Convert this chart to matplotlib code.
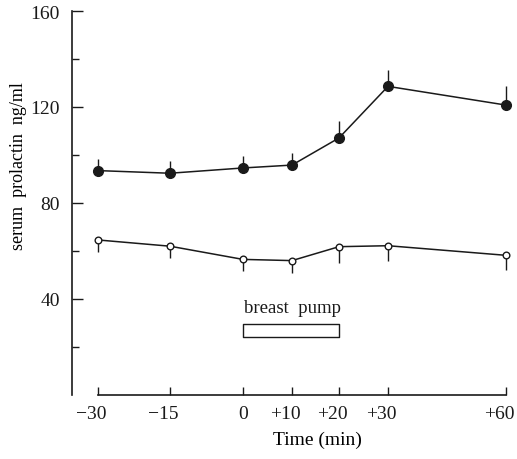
import numpy as np
import matplotlib
matplotlib.use("Agg")
import matplotlib.pyplot as plt
from matplotlib.scale import FuncScale
from matplotlib.transforms import ScaledTranslation

# time points (min) and serum prolactin (ng/ml)
times = [-30, -15, 0, 10, 20, 30, 60]
tick_labels = ["\u221230", "\u221215", "0", "+10", "+20", "+30", "+60"]

filled_mean = [93.5, 92.4, 94.6, 95.8, 107.1, 128.6, 120.8]
filled_err = [5.0, 5.2, 5.1, 5.0, 7.0, 7.0, 7.8]

open_mean = [64.6, 62.0, 56.5, 56.0, 61.8, 62.2, 58.2]
open_err = [5.0, 5.0, 4.8, 5.0, 6.8, 6.4, 6.0]

pump_start, pump_end = 0, 20

# hand-drawn time axis is not linear: relative spacing of the printed ticks
axis_spacing = [0, 72, 145, 194, 241, 290, 408]


def fwd(t):
    return np.interp(t, times, axis_spacing)


def inv(p):
    return np.interp(p, axis_spacing, times)


plt.rcParams['font.family'] = ['Liberation Serif', 'DejaVu Serif']
ink = '#1a1a1a'

fig = plt.figure(figsize=(5.17, 4.6), dpi=100)
ax = fig.add_axes([98 / 517, 64 / 460, 408 / 517, 384 / 460])
ax.set_xscale(FuncScale(ax.xaxis, (fwd, inv)))

for mean, err, up, ms, face in [(filled_mean, filled_err, True, 7, ink),
                                (open_mean, open_err, False, 4.8, 'white')]:
    zeros = np.zeros(len(err))
    yerr = [zeros, err] if up else [err, zeros]
    eb = ax.errorbar(times, mean, yerr=yerr, fmt='-o', color=ink, lw=1.1,
                     elinewidth=1.0, capsize=0, ms=ms, mfc=face, mec=ink,
                     mew=1.0, zorder=3)
    eb.lines[0].set_clip_on(False)
    for art in eb.lines[2]:
        art.set_clip_on(False)

# breast pump bar
ax.fill_between([pump_start, pump_end], 24.2, 29.6, facecolor='white',
                edgecolor=ink, lw=1.0)
ax.text((pump_start + pump_end) / 2, 33, "breast  pump", ha='center',
        va='bottom', fontsize=13.5, color=ink)

ax.set_xlim(-30, 60)
ax.set_ylim(0, 160)
ax.set_xticks(times)
ax.set_xticklabels(tick_labels, fontsize=14)
ax.set_yticks([40, 80, 120, 160])
ax.set_yticks([20, 60, 100, 140], minor=True)
ax.tick_params(axis='y', which='major', direction='in', length=8, width=1,
               labelsize=14, pad=9, colors=ink)
ax.tick_params(axis='y', which='minor', direction='in', length=5, width=1,
               colors=ink)
ax.tick_params(axis='x', direction='in', length=6, width=1, pad=7, colors=ink)

# numbers sit under the tick, the sign hangs to the left
shift = ScaledTranslation(-7 / 100, 0, fig.dpi_scale_trans)
for lab in ax.get_xticklabels():
    if lab.get_text()[0] in "\u2212+":
        lab.set_transform(lab.get_transform() + shift)

for s in ['top', 'right']:
    ax.spines[s].set_visible(False)
ax.spines['left'].set_position(('outward', 18.5))
ax.spines['left'].set_bounds(0, 160)
for s in ['left', 'bottom']:
    ax.spines[s].set_color(ink)
    ax.spines[s].set_linewidth(1.2)

ax.set_ylabel("serum  prolactin  ng/ml", fontsize=13)
ax.yaxis.set_label_coords(-0.174, 0.60)
ax.set_xlabel("Time (min)", fontsize=14)
ax.xaxis.set_label_coords(0.537, -0.092)

fig.savefig("out.png", dpi=100)
